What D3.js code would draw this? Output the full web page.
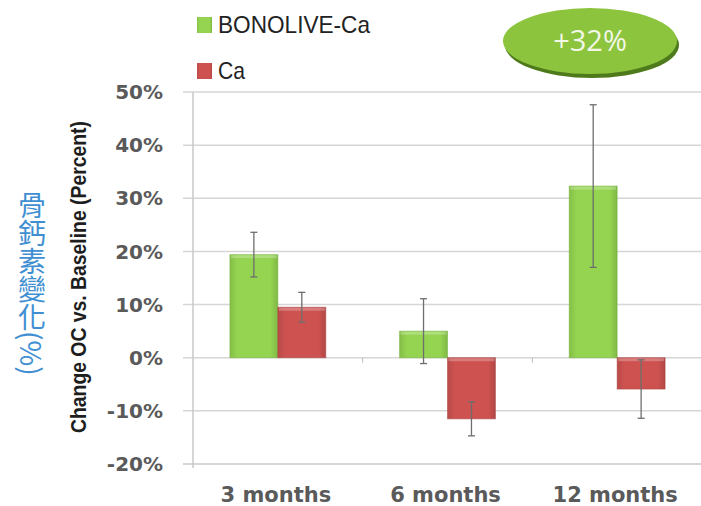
<!DOCTYPE html>
<html lang="zh-Hant">
<head>
  <meta charset="UTF-8" />
  <title>Change OC vs. Baseline</title>
  <script src="https://d3js.org/d3.v7.min.js"></script>
  <style>
    body { margin: 0; background: #fff; }
    svg { display: block; }
    .tick-label { font-family: "DejaVu Sans", sans-serif; font-weight: bold; font-size: 20px; fill: #5a5a5a; }
    .legend { font-family: "Liberation Sans Narrow", "Liberation Sans", sans-serif; font-size: 24px; fill: #222; }
  </style>
</head>
<body>
  <svg></svg>
  <script>
    const categories = ["3 months", "6 months", "12 months"];
    const seriesNames = ["BONOLIVE-Ca", "Ca"];
    const bonoliveValues = [19.4, 5.0, 32.3];
    const bonoliveErrors = [4.2, 6.1, 15.3];
    const caValues = [9.5, -11.5, -5.9];
    const caErrors = [2.8, 3.2, 5.5];
    const yTicks = [-20, -10, 0, 10, 20, 30, 40, 50];

    const width = 701, height = 506;
    const colors = { "BONOLIVE-Ca": "#94d450", "Ca": "#cd5250" };
    const dark = { "BONOLIVE-Ca": "#6fae32", "Ca": "#a63c3a" };

    const rows = categories.map((c, i) => ({
      category: c,
      values: [
        { series: "BONOLIVE-Ca", value: bonoliveValues[i], err: bonoliveErrors[i] },
        { series: "Ca", value: caValues[i], err: caErrors[i] }
      ]
    }));

    const svg = d3.select("svg").attr("width", width).attr("height", height);

    const y = d3.scaleLinear().domain([-20, 50]).range([464, 92]);
    const x0 = d3.scaleBand().domain(categories).range([193, 702]).padding(0);
    const x1 = d3.scaleBand().domain(seriesNames).range([0, x0.bandwidth()])
      .paddingInner(0).paddingOuter(0.77);

    // gradients for the bars
    const defs = svg.append("defs");
    seriesNames.forEach((s, i) => {
      const g = defs.append("linearGradient").attr("id", "grad" + i)
        .attr("x1", "0").attr("x2", "1").attr("y1", "0").attr("y2", "0");
      g.append("stop").attr("offset", "0").attr("stop-color", d3.color(colors[s]).darker(0.3));
      g.append("stop").attr("offset", "0.15").attr("stop-color", colors[s]);
      g.append("stop").attr("offset", "0.85").attr("stop-color", colors[s]);
      g.append("stop").attr("offset", "1").attr("stop-color", d3.color(colors[s]).darker(0.4));
    });

    // grid lines
    svg.append("g").selectAll("line")
      .data(yTicks)
      .join("line")
      .attr("x1", 183).attr("x2", width)
      .attr("y1", d => y(d)).attr("y2", d => y(d))
      .attr("stroke", d => d === -20 ? "#c8c8c8" : "#d6d6d6")
      .attr("stroke-width", 1.5);

    // y axis line
    svg.append("line")
      .attr("x1", 193).attr("x2", 193)
      .attr("y1", y(50)).attr("y2", y(-20) + 4)
      .attr("stroke", "#c8c8c8").attr("stroke-width", 1.5);

    // category ticks on zero line
    svg.append("g").selectAll("line")
      .data(categories.slice(1))
      .join("line")
      .attr("x1", d => x0(d)).attr("x2", d => x0(d))
      .attr("y1", y(0)).attr("y2", y(0) + 5)
      .attr("stroke", "#bbb").attr("stroke-width", 1);

    // y tick labels
    svg.append("g").selectAll("text")
      .data(yTicks)
      .join("text")
      .attr("class", "tick-label")
      .attr("x", 163)
      .attr("y", d => y(d))
      .attr("dy", "0.36em")
      .attr("text-anchor", "end")
      .text(d => d + "%");

    // x labels
    svg.append("g").selectAll("text")
      .data(categories)
      .join("text")
      .attr("class", "tick-label")
      .attr("x", d => x0(d) + x0.bandwidth() / 2 - 2)
      .attr("y", 502)
      .attr("text-anchor", "middle")
      .style("font-size", "21px")
      .text(d => d);

    // bars
    const groups = svg.append("g").selectAll("g")
      .data(rows)
      .join("g")
      .attr("transform", d => `translate(${x0(d.category)},0)`);

    groups.selectAll("rect")
      .data(d => d.values)
      .join("rect")
      .attr("x", d => x1(d.series))
      .attr("width", x1.bandwidth())
      .attr("y", d => y(Math.max(0, d.value)))
      .attr("height", d => Math.abs(y(d.value) - y(0)))
      .attr("fill", d => `url(#grad${seriesNames.indexOf(d.series)})`)
      .attr("stroke", d => dark[d.series])
      .attr("stroke-opacity", 0.5)
      .attr("stroke-width", 1);

    // light bevel at the outer edge of each bar
    groups.selectAll("rect.bevel")
      .data(d => d.values)
      .join("rect")
      .attr("class", "bevel")
      .attr("x", d => x1(d.series) + 1)
      .attr("width", x1.bandwidth() - 2)
      .attr("y", d => d.value >= 0 ? y(d.value) + 0.5 : y(0) + 0.5)
      .attr("height", 3)
      .attr("fill", "#fff")
      .attr("opacity", 0.25);

    // error bars
    const eb = groups.selectAll("g.err")
      .data(d => d.values)
      .join("g")
      .attr("class", "err")
      .attr("stroke", "#6e6e6e")
      .attr("stroke-width", 1.3);
    const cx = d => x1(d.series) + x1.bandwidth() / 2;
    eb.append("line")
      .attr("x1", cx).attr("x2", cx)
      .attr("y1", d => y(d.value + d.err)).attr("y2", d => y(d.value - d.err));
    eb.append("line")
      .attr("x1", d => cx(d) - 3.5).attr("x2", d => cx(d) + 3.5)
      .attr("y1", d => y(d.value + d.err)).attr("y2", d => y(d.value + d.err));
    eb.append("line")
      .attr("x1", d => cx(d) - 3.5).attr("x2", d => cx(d) + 3.5)
      .attr("y1", d => y(d.value - d.err)).attr("y2", d => y(d.value - d.err));

    // legend
    const legend = svg.append("g").selectAll("g")
      .data(seriesNames)
      .join("g")
      .attr("transform", (d, i) => `translate(197,${17 + i * 46})`);
    legend.append("rect")
      .attr("width", 15).attr("height", 16)
      .attr("fill", d => `url(#grad${seriesNames.indexOf(d)})`);
    legend.append("text")
      .attr("class", "legend")
      .attr("x", 21).attr("y", 16)
      .attr("textLength", d => d.length > 2 ? 152 : 27)
      .attr("lengthAdjust", "spacingAndGlyphs")
      .text(d => d);

    // y axis titles
    svg.append("text")
      .attr("transform", "translate(86,277) rotate(-90)")
      .attr("text-anchor", "middle")
      .attr("font-family", "'Liberation Sans Narrow', 'Liberation Sans', sans-serif")
      .attr("font-weight", "bold")
      .attr("font-size", 22)
      .attr("fill", "#1e1e1e")
      .attr("textLength", 312)
      .attr("lengthAdjust", "spacingAndGlyphs")
      .text("Change OC vs. Baseline (Percent)");

    svg.append("text")
      .attr("x", 32).attr("y", 191)
      .style("writing-mode", "vertical-rl")
      .attr("font-family", "'Noto Sans CJK TC', sans-serif")
      .attr("font-size", 28)
      .attr("fill", "#3f8fd2")
      .text("骨鈣素變化(%)");

    // +32% badge
    const badge = svg.append("g").attr("transform", "translate(590,41)");
    badge.append("ellipse").attr("cx", 2).attr("cy", 4).attr("rx", 87).attr("ry", 33)
      .attr("fill", "#4f7a1c");
    badge.append("ellipse").attr("rx", 87).attr("ry", 33).attr("fill", "#8cc43e");
    badge.append("text")
      .attr("y", 10)
      .attr("text-anchor", "middle")
      .attr("font-family", "'Open Sans', sans-serif")
      .attr("font-size", 29)
      .attr("fill", "#f2f7e6")
      .text("+" + Math.round(bonoliveValues[2]) + "%");
  </script>
</body>
</html>
